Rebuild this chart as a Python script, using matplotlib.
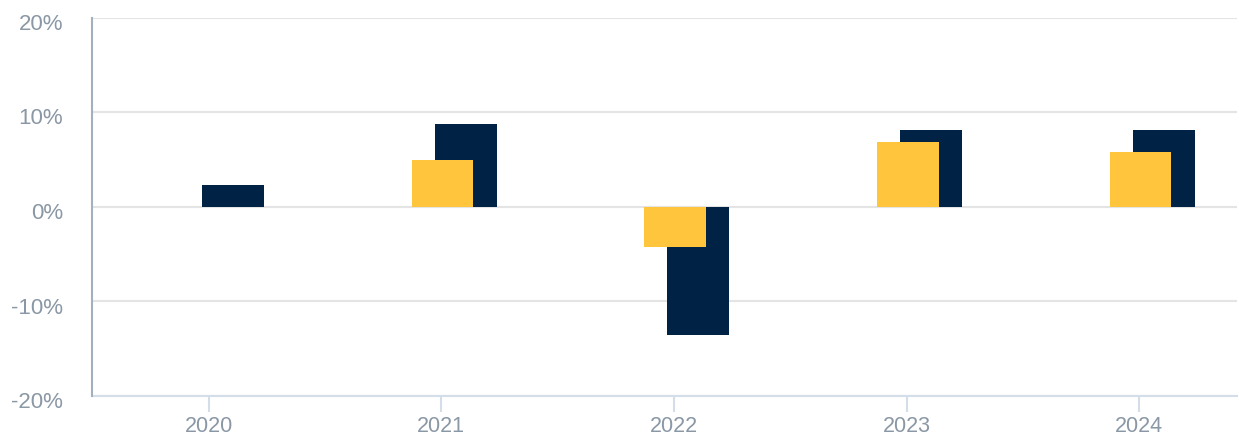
import matplotlib
matplotlib.use("Agg")
import matplotlib.pyplot as plt
import numpy as np
from matplotlib.transforms import ScaledTranslation

years = ["2020", "2021", "2022", "2023", "2024"]
navy_values = [2.3, 8.75, -13.5, 8.1, 8.1]
yellow_values = [np.nan, 4.95, -4.2, 6.85, 5.8]
y_ticks = [-20, -10, 0, 10, 20]
y_tick_labels = ["-20%", "-10%", "0%", "10%", "20%"]

NAVY = "#002244"
YELLOW = "#FFC53D"
GRID = "#e4e4e4"
TEXT = "#8a97a5"

plt.rcParams["font.family"] = ["Liberation Sans", "DejaVu Sans"]

fig = plt.figure(figsize=(12.39, 4.36), dpi=100)
ax = fig.add_axes([92.3 / 1239, 1 - 396 / 436, (1237 - 92.3) / 1239, (396 - 17.7) / 436])

x = np.arange(len(years))
w = 0.266
ax.bar(x + 0.105, navy_values, width=w, color=NAVY, zorder=2)
ax.bar(x + 0.005, yellow_values, width=w, color=YELLOW, zorder=3)

ax.set_xlim(-0.5, 4.42)
ax.set_ylim(-20, 20)
ax.set_yticks(y_ticks)
ax.set_yticklabels(y_tick_labels)
ax.set_xticks(x)
ax.set_xticklabels(years)

ax.grid(axis="y", color=GRID, linewidth=1.5, zorder=0)
ax.set_axisbelow(True)

for s in ["top", "right"]:
    ax.spines[s].set_visible(False)
ax.spines["left"].set_color("#a3b0bd")
ax.spines["left"].set_linewidth(1.5)
ax.spines["bottom"].set_color("#d3deea")
ax.spines["bottom"].set_linewidth(1.5)
ax.spines["bottom"].set_zorder(1)

ax.tick_params(axis="y", length=0, pad=21, labelsize=16, labelcolor=TEXT)
ax.tick_params(axis="x", length=11.5, width=1.5, color="#d3deea", pad=3, labelsize=15.5, labelcolor=TEXT)

off = ScaledTranslation(0, -3 / 72, fig.dpi_scale_trans)
for lab in ax.get_yticklabels():
    lab.set_transform(lab.get_transform() + off)

fig.savefig("out.png", dpi=100, facecolor="white")
